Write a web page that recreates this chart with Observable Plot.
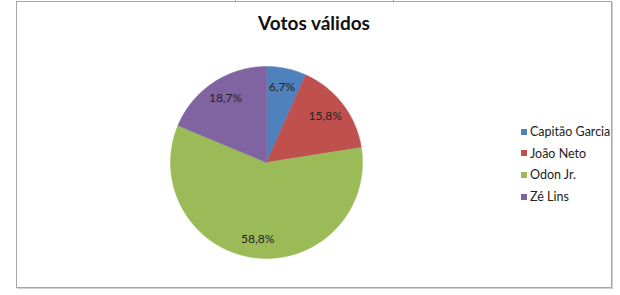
<!DOCTYPE html>
<html>
<head>
<meta charset="utf-8">
<script src="https://cdn.jsdelivr.net/npm/d3@7"></script>
<script src="https://cdn.jsdelivr.net/npm/@observablehq/plot@0.6"></script>
<style>
  html, body { margin: 0; padding: 0; background: #fff; }
  #wrap { position: relative; width: 620px; height: 295px; overflow: hidden; font-family: Lato, "Open Sans", sans-serif; }
  #frame { position: absolute; left: 16px; top: 1px; width: 594px; height: 285px; border: 1px solid #a6a6a6; box-shadow: 1px 1px 0 #d0d0d0; }
  .tick { position: absolute; top: 0; width: 1px; height: 2px; background: #a6a6a6; }
  #title { position: absolute; left: 0; width: 628px; top: 11px; text-align: center; font-weight: 700; font-size: 19px; color: #111; }
  #legend { position: absolute; left: 521px; top: 121px; font-size: 12.5px; color: #222; }
  .item { height: 21.6px; display: flex; align-items: center; white-space: nowrap; }
  .sw { width: 6px; height: 6px; margin-right: 3px; }
  #chart { position: absolute; left: 0; top: 0; }
</style>
</head>
<body>
<div id="wrap">
  <div id="frame"></div>
  <div class="tick" style="left:235px"></div>
  <div class="tick" style="left:393px"></div>
  <div id="chart"></div>
  <div id="title"></div>
  <div id="legend"></div>
</div>
<script>
const title = "Votos válidos";
const names = ["Capitão Garcia", "João Neto", "Odon Jr.", "Zé Lins"];
const shares = [6.7, 15.8, 58.8, 18.7];
const colors = ["#4F81BD", "#C0504D", "#9BBB59", "#8064A2"];

const data = names.map((name, i) => ({name, value: shares[i]}));
const arcs = d3.pie().value(d => d.value).sort(null)(data);

// slice outlines (center + arc points) in unit-circle coordinates
const pts = [];
arcs.forEach(a => {
  const n = Math.max(2, Math.ceil((a.endAngle - a.startAngle) / 0.01));
  pts.push({name: a.data.name, x: 0, y: 0});
  for (let k = 0; k <= n; k++) {
    const t = a.startAngle + (a.endAngle - a.startAngle) * k / n;
    pts.push({name: a.data.name, x: Math.sin(t), y: Math.cos(t)});
  }
  pts.push({name: a.data.name, x: 0, y: 0});
});

const labels = arcs.map(a => {
  const m = (a.startAngle + a.endAngle) / 2;
  return {
    x: 0.77 * Math.sin(m),
    y: 0.8 * Math.cos(m),
    text: a.data.value.toFixed(1).replace(".", ",") + "%"
  };
});

const chart = Plot.plot({
  width: 620,
  height: 295,
  marginLeft: 170,
  marginRight: 258,
  marginTop: 66,
  marginBottom: 37,
  x: {domain: [-1, 1], axis: null},
  y: {domain: [-1, 1], axis: null},
  color: {domain: names, range: colors},
  style: {background: "transparent", overflow: "visible"},
  marks: [
    Plot.line(pts, {x: "x", y: "y", z: "name", fill: "name", stroke: "name", strokeWidth: 0.5, curve: "linear"}),
    Plot.text(labels, {x: "x", y: "y", text: "text", fontSize: 12, fill: "#222", fontFamily: "Lato, 'Open Sans', sans-serif"})
  ]
});
document.getElementById("chart").appendChild(chart);
document.getElementById("title").textContent = title;

const legend = document.getElementById("legend");
names.forEach((n, i) => {
  const item = document.createElement("div");
  item.className = "item";
  const sw = document.createElement("span");
  sw.className = "sw";
  sw.style.background = colors[i];
  const tx = document.createElement("span");
  tx.textContent = n;
  item.appendChild(sw);
  item.appendChild(tx);
  legend.appendChild(item);
});
</script>
</body>
</html>
